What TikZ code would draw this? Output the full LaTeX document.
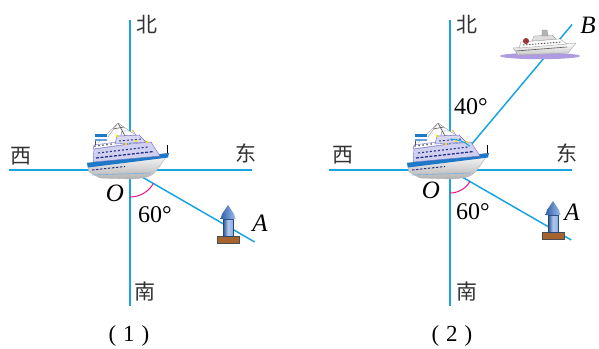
\documentclass[tikz,border=0pt]{standalone}
\usepackage{fontspec}
\setmainfont{Liberation Serif}
\newfontfamily\cjk{Noto Sans CJK SC}
\usetikzlibrary{calc}
\definecolor{axisblue}{RGB}{25,165,225}
\definecolor{arcpink}{RGB}{230,20,140}
\definecolor{hullblue}{RGB}{30,120,200}
\definecolor{deckviolet}{RGB}{208,208,240}
\definecolor{deckedge}{RGB}{110,110,190}
\definecolor{winblue}{RGB}{40,50,140}
\definecolor{buoyblue}{RGB}{60,120,210}
\definecolor{buoybrown}{RGB}{165,100,45}
\definecolor{shadowviolet}{RGB}{175,155,225}
\tikzset{
  axis/.style={draw=axisblue,line width=1.5pt},
  anglearc/.style={line width=1pt},
  cn/.style={font=\cjk\fontsize{21}{21}\selectfont,text=black!80},
  deg/.style={font=\fontsize{24}{24}\selectfont},
  pt/.style={font=\itshape\fontsize{25}{25}\selectfont},
  caption/.style={font=\fontsize{23}{23}\selectfont},
  bigship/.pic={
    % hull
    \shade[top color=white,bottom color=gray!60,draw=gray!60,line width=0.4pt]
      (-43,-7) -- (39,-17) -- (32,-7) .. controls (22,7) .. (2,9) -- (-30,8) -- (-41,2) -- cycle;
    \fill[hullblue] (-43,-7) -- (39,-17) -- (38,-12.5) -- (-42,-2.5) -- cycle;
    \draw[winblue,line width=1pt,dash pattern=on 2.5pt off 1.5pt] (-38,0) -- (-5,-3.5);
    \draw[hullblue!60,line width=0.6pt] (-38,5) -- (20,3);
    % superstructure
    \filldraw[fill=deckviolet,draw=deckedge,line width=0.4pt]
      (-37,-8) -- (-36,-21) -- (0,-26) -- (21,-28) -- (30,-14) -- cycle;
    \filldraw[fill=white,draw=deckedge,line width=0.4pt]
      (-37,-21) -- (-36,-25) -- (-6,-29) -- (-2,-26) -- cycle;
    \filldraw[fill=deckviolet!85,draw=deckedge,line width=0.4pt]
      (-15,-26) -- (-13,-34) -- (9,-35) -- (16,-28) -- cycle;
    \filldraw[fill=white,draw=deckedge,line width=0.4pt]
      (-9,-34) -- (-8,-39) -- (3,-39) -- (6,-35) -- cycle;
    % windows
    \draw[winblue,line width=1.3pt,dash pattern=on 3pt off 1.5pt] (-34,-12) -- (24,-18.5);
    \draw[winblue,line width=1.1pt,dash pattern=on 2pt off 2pt] (-32,-17) -- (18,-23);
    \draw[winblue,line width=0.9pt,dash pattern=on 2pt off 2pt] (-11,-29) -- (12,-31);
    \fill[black!60] (-35,-24) circle (1) (-31,-24.5) circle (1) (-27,-25) circle (1) (-23,-25.5) circle (1) (-19,-26) circle (1);
    % mast and stays
    \draw[gray!70!black,line width=0.7pt] (-12,-47) -- (-5,-34);
    \draw[gray!70!black,line width=0.6pt] (-17,-41) -- (-6,-43);
    \draw[gray,line width=0.3pt] (-12,-47) -- (-32,-27) (-12,-47) -- (4,-36) (-12,-47) -- (-22,-33);
    % flag on the stern
    \draw[gray!60!black,line width=0.5pt] (-35,-25) -- (-35,-36);
    \fill[hullblue] (-35,-36) rectangle (-23,-33);
    \fill[white] (-35,-33) rectangle (-23,-31.5);
    \fill[hullblue!70] (-35,-31.5) rectangle (-23,-29);
    % lights
    \fill[yellow!80!orange] (-4,-26) circle (1.3) (6,-29) circle (1.3) (-13,-34) circle (1.3) (17,-28) circle (1.3) (3,-39) circle (1.2);
    % bow post
    \draw[black,line width=0.6pt] (37,-17) -- (37,-25);
  },
  smallship/.pic={
    \fill[shadowviolet] (0,8) ellipse [x radius=40, y radius=3.2];
    \shade[top color=white,bottom color=gray!45,draw=gray!70,line width=0.4pt]
      (-27,0) -- (36,-5) -- (28,5) -- (-22,7) -- cycle;
    \draw[gray!70!black,line width=0.6pt] (-24,3) -- (27,-1);
    \filldraw[fill=white,draw=gray!70,line width=0.4pt]
      (-21,0) -- (-19,-6) -- (20,-9) -- (27,-4) -- cycle;
    \draw[black!70,line width=0.9pt,dash pattern=on 1.5pt off 1.5pt] (-17,-3) -- (22,-6);
    \filldraw[fill=gray!25,draw=gray!70,line width=0.4pt]
      (-8,-7) -- (-6,-12) -- (12,-13) -- (16,-9) -- cycle;
    \filldraw[fill=gray!60,draw=gray!80,line width=0.4pt]
      (2,-12) -- (2,-18) -- (7,-18) -- (8,-12) -- cycle;
    \fill[red!50!black!80] (-14,-7) circle (3);
  },
  buoy/.pic={
    \draw[black!70,fill=buoybrown,line width=0.5pt] (-11,-4) rectangle (11,3);
    \shade[left color=buoyblue!70!black,right color=buoyblue!60,middle color=buoyblue!40]
      (-5,-21) rectangle (5,-4);
    \draw[buoyblue!60!black,line width=0.4pt] (-5,-21) rectangle (5,-4);
    \shade[left color=buoyblue!80!black,right color=buoyblue!50]
      (-7.5,-21) -- (-6,-26) -- (0,-35) -- (6,-26) -- (7.5,-21) -- cycle;
  },
}
\begin{document}
\begin{tikzpicture}[x=1pt,y=-1pt]
\useasboundingbox (0,0) rectangle (599,348);

% ---------- figure (1) ----------
\coordinate (O1) at (130,170);
\coordinate (N1) at (130,20);
\coordinate (S1) at (130,306);
\coordinate (W1) at (9,170);
\coordinate (E1) at (252,170);
\path (O1) ++(30:144) coordinate (A1);
\draw[axis] (N1) -- (S1);
\draw[axis] (W1) -- (E1);
\draw[axis] (O1) -- (A1);
\pic at (O1) {bigship};
\draw[arcpink,anglearc] ([shift={(90:27)}]O1) arc[start angle=90,end angle=30,radius=27];
\pic at (228,240) {buoy};
\node[cn] (n1) at (147,25) {北};
\node[cn] (s1) at (145,292) {南};
\node[cn] (w1) at (21,156) {西};
\node[cn] (e1) at (246,153) {东};
\node[pt] (o1) at (115,193) {O};
\node[deg] (d1) at (155,215) {60°};
\node[pt] (a1) at (260,223) {A};
\node[caption] (c1) at (129,336) {(\hspace{7pt}1\hspace{7pt})};

% ---------- figure (2) ----------
\coordinate (O2) at (450,170);
\coordinate (N2) at (450,20);
\coordinate (S2) at (450,306);
\coordinate (W2) at (329,170);
\coordinate (E2) at (572,170);
\path (O2) ++(30:140) coordinate (A2);
\path (O2) ++(-50:190) coordinate (B2);
\draw[axis] (N2) -- (S2);
\draw[axis] (W2) -- (E2);
\draw[axis] (O2) -- (A2);
\draw[axis] (O2) -- (B2);
\pic at (O2) {bigship};
\pic at (540,48) {smallship};
\draw[arcpink,anglearc] ([shift={(90:23)}]O2) arc[start angle=90,end angle=30,radius=23];
\draw[axisblue,anglearc] ([shift={(-90:31)}]O2) arc[start angle=-90,end angle=-50,radius=31];
\pic at (553,236) {buoy};
\node[cn] (n2) at (467,25) {北};
\node[cn] (s2) at (467,292) {南};
\node[cn] (w2) at (343,155) {西};
\node[cn] (e2) at (567,153) {东};
\node[pt] (o2) at (431,190) {O};
\node[deg] (d2) at (473,212) {60°};
\node[deg] (f2) at (471,107) {40°};
\node[pt] (a2) at (572,212) {A};
\node[pt] (b2) at (588,25) {B};
\node[caption] (c2) at (452,336) {(\hspace{7pt}2\hspace{7pt})};
\end{tikzpicture}
\end{document}
